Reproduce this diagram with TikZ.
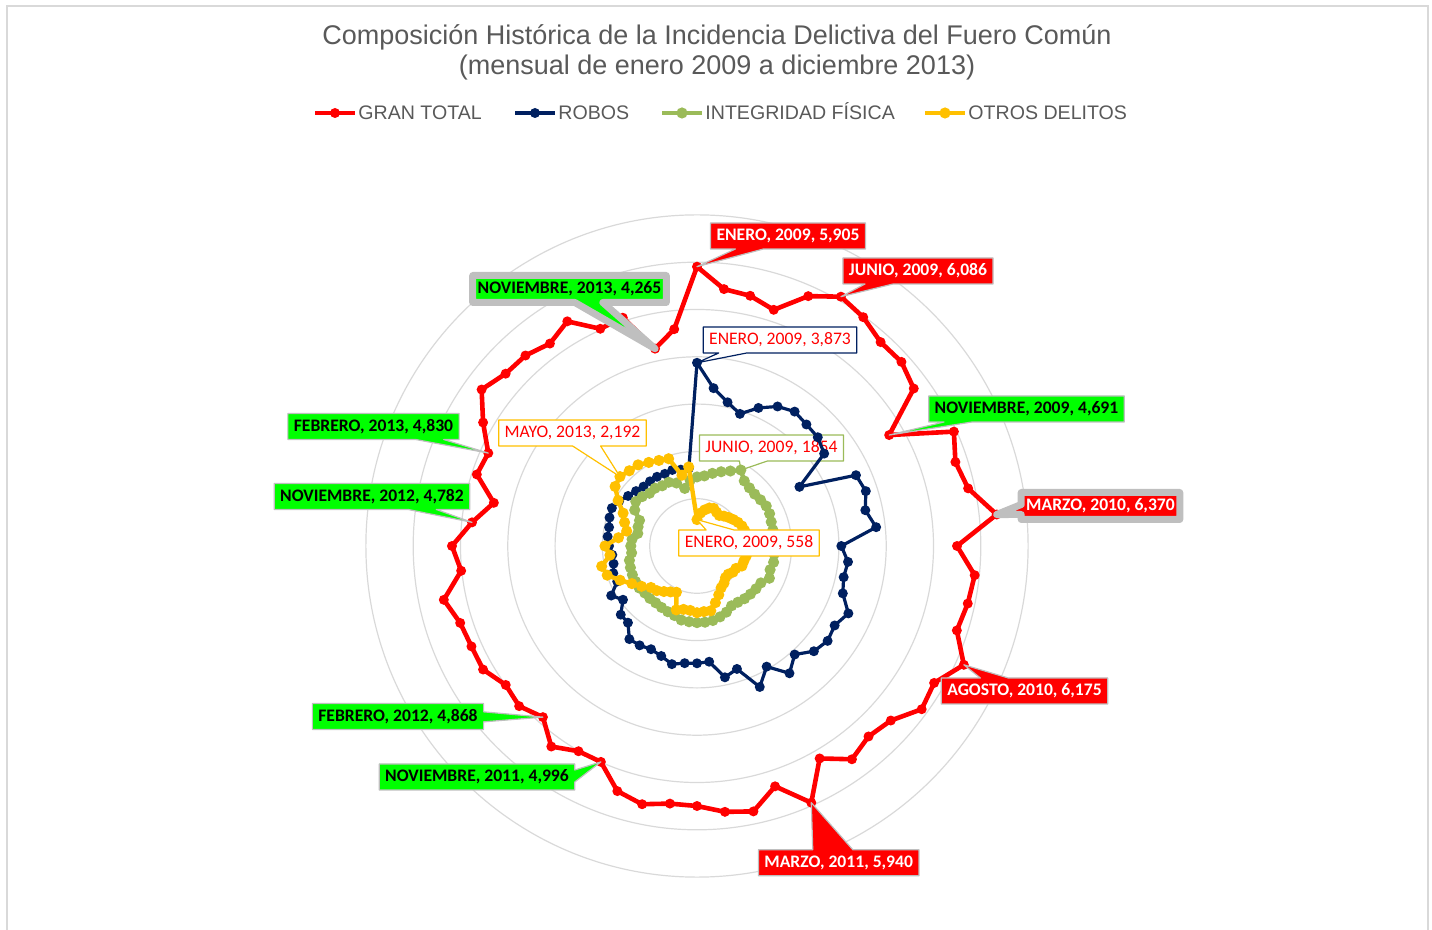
\documentclass[tikz,border=0pt]{standalone}
\usepackage{fontspec}
\setmainfont{Liberation Sans}
\newfontfamily\calibri{Carlito}
\usetikzlibrary{shapes.callouts}

\definecolor{gtRed}{HTML}{FF0000}
\definecolor{robNavy}{HTML}{002060}
\definecolor{intGreen}{HTML}{9BBB59}
\definecolor{otrYellow}{HTML}{FFC000}
\definecolor{lblGreen}{HTML}{00FF00}
\definecolor{gridGray}{HTML}{D9D9D9}
\definecolor{bordGray}{HTML}{BFBFBF}
\definecolor{txtGray}{HTML}{595959}

\tikzset{
  title/.style={text=txtGray, font=\fontsize{13.5}{16}\selectfont, inner sep=0pt},
  legtxt/.style={text=txtGray, font=\fontsize{9.8}{11}\selectfont, inner sep=0pt, anchor=base west},
  serie/.style={line width=#1, line join=round},
  lbl/.style={rectangle callout, inner xsep=3pt, inner ysep=0pt, minimum height=13pt,
    callout pointer width=14pt, line join=round, line width=0.6pt, draw=bordGray,
    font=\calibri\bfseries\fontsize{8.8}{10}\selectfont},
  lblRed/.style={lbl, fill=gtRed, text=white},
  lblGreen/.style={lbl, fill=lblGreen, text=black},
  lblThick/.style={line width=3.5pt, inner xsep=2.5pt, minimum height=13.5pt},
  lblWhite/.style={lbl, fill=white, draw=#1, text=gtRed,
    font=\calibri\fontsize{8.8}{10}\selectfont}
}

\begin{document}
\begin{tikzpicture}[x=0.5pt,y=-0.5pt]
    \pgfmathsetmacro{\sc}{0.0473}   % px por unidad (7000 -> radio 331)
    % datos mensuales enero 2009 - diciembre 2013
    \def\gtData{5905,5461,5408,5250,5782,6086,5979,5801,5816,5664,
      4691,5945,5744,5860,6370,5497,5903,5852,5776,6175,
      5789,5871,5514,5419,5573,5186,5940,5342,5736,5651,
      5497,5476,5581,5448,4996,5010,5240,4868,5059,4998,
      5222,5219,5264,5472,5013,5180,4782,4391,4894,4830,
      5222,5628,5444,5419,5290,5484,5027,5074,4265,4609}
    \def\robData{3873,3355,3106,2937,3195,3406,3512,3457,3436,3323,
      2501,3679,3753,3638,3808,3051,3210,3170,3241,3503,
      3360,3413,3325,3087,3326,2945,3262,2733,2838,2460,
      2480,2491,2554,2445,2389,2425,2433,2182,2169,1934,
      2095,1846,1861,1803,1800,1860,1900,1900,1945,1970,
      1900,1800,1735,1690,1690,1690,1670,1690,1650,1650}
    \def\intData{1460,1490,1570,1650,1735,1854,1700,1655,1640,1660,
      1690,1680,1650,1640,1660,1620,1640,1655,1625,1675,
      1560,1540,1520,1500,1470,1460,1530,1575,1610,1620,
      1620,1610,1600,1545,1520,1500,1485,1490,1485,1510,
      1500,1495,1480,1460,1390,1400,1380,1280,1310,1330,
      1520,1600,1560,1500,1510,1470,1475,1400,1245,1395}
    \def\otrData{558,700,780,845,870,825,800,850,900,950,
      1000,1040,1060,1080,1100,1080,1090,1060,1040,1040,
      950,940,890,900,970,1020,1130,1260,1400,1395,
      1410,1370,1370,1420,1070,1120,1190,1270,1310,1450,
      1590,1780,1995,2060,1850,1945,1670,1520,1610,1710,
      1925,2140,2192,2140,2120,2040,1980,1940,1530,1680}

    \useasboundingbox (0,0) rectangle (1432,930);
    \draw[gridGray, line width=0.7pt] (7,1000) -- (7,6) -- (1428,6) -- (1428,1000);

    % titulo
    \node[title] (tit1) at (717,37) {Composición Histórica de la Incidencia Delictiva del Fuero Común};
    \node[title] (tit2) at (717,68) {(mensual de enero 2009 a diciembre 2013)};

    % leyenda
    \foreach \nm/\col/\lw/\dr/\x/\txt in {gt/gtRed/2.3pt/2.5pt/315/GRAN TOTAL,
        rob/robNavy/1.6pt/2.5pt/515/ROBOS,
        int/intGreen/2.2pt/2.8pt/662/INTEGRIDAD FÍSICA,
        otr/otrYellow/2.2pt/2.8pt/925/OTROS DELITOS}{
      \coordinate (leg-\nm) at (\x,113);
      \draw[\col, line width=\lw] (leg-\nm) -- ++(40,0) coordinate (leg-\nm-e);
      \fill[\col] (leg-\nm) ++(20,0) circle (\dr);
      \node[legtxt] (legt-\nm) at (\x+43,120) {\txt};
    }

    % red polar
    \coordinate (ctr) at (697,546);
    \begin{scope}[shift={(ctr)}, yscale=-1]
        \foreach \k in {1,...,7}
            \draw[gridGray, line width=0.6pt] (0,0) circle ({\k*1000*\sc*0.5pt});
        \foreach \v [count=\i from 0] in \gtData {\coordinate (gt-\i) at ({90-6*\i}:{\v*\sc});}
        \foreach \v [count=\i from 0] in \robData {\coordinate (rob-\i) at ({90-6*\i}:{\v*\sc});}
        \foreach \v [count=\i from 0] in \intData {\coordinate (int-\i) at ({90-6*\i}:{\v*\sc});}
        \foreach \v [count=\i from 0] in \otrData {\coordinate (otr-\i) at ({90-6*\i}:{\v*\sc});}
    \end{scope}

    % GRAN TOTAL
    \draw[gtRed, serie=2.3pt] (gt-0) \foreach \i in {1,...,59}{ -- (gt-\i)} -- cycle;
    \foreach \i in {0,...,59} \fill[gtRed] (gt-\i) circle (2.5pt);

    \node[lblWhite=intGreen] (l-int5) at (771.5,448) [callout absolute pointer={(int-5)}] {JUNIO, 2009, 1854};

    % ROBOS
    \draw[robNavy, serie=1.6pt] (rob-0) \foreach \i in {1,...,59}{ -- (rob-\i)} -- cycle;
    \foreach \i in {0,...,59} \fill[robNavy] (rob-\i) circle (2.5pt);

    % INTEGRIDAD FISICA
    \draw[intGreen, serie=2.2pt] (int-0) \foreach \i in {1,...,59}{ -- (int-\i)} -- cycle;
    \foreach \i in {0,...,59} \fill[intGreen] (int-\i) circle (2.8pt);

    % OTROS DELITOS
    \draw[otrYellow, serie=2.2pt] (otr-0) \foreach \i in {1,...,59}{ -- (otr-\i)} -- cycle;
    \foreach \i in {0,...,59} \fill[otrYellow] (otr-\i) circle (2.8pt);

    % etiquetas de datos
    \node[lblRed, callout absolute pointer={(gt-0)}] (l-gt0) at (788,236) {ENERO, 2009, 5,905};
    \node[lblRed, callout absolute pointer={(gt-5)}] (l-gt5) at (918,271) {JUNIO, 2009, 6,086};
    \node[lblGreen, lblThick, callout absolute pointer={(gt-58)}] (l-gt58) at (569.5,289) {NOVIEMBRE, 2013, 4,265};
    \node[lblWhite=robNavy, callout absolute pointer={(rob-0)}] (l-rob0) at (780,340) {ENERO, 2009, 3,873};
    \node[lblGreen, callout absolute pointer={(gt-10)}] (l-gt10) at (1026.5,409) {NOVIEMBRE, 2009, 4,691};
    \node[lblGreen, callout absolute pointer={(gt-49)}] (l-gt49) at (373.5,426.5) {FEBRERO, 2013, 4,830};
    \node[lblWhite=otrYellow, callout absolute pointer={(otr-52)}] (l-otr52) at (572.5,433) {MAYO, 2013, 2,192};
    \node[lblGreen, callout absolute pointer={(gt-46)}] (l-gt46) at (372,496.5) {NOVIEMBRE, 2012, 4,782};
    \node[lblRed, lblThick, callout pointer width=5pt, callout absolute pointer={(gt-14)}] (l-gt14) at (1100.5,506) {MARZO, 2010, 6,370};
    \node[lblWhite=otrYellow, callout absolute pointer={(otr-0)}] (l-otr0) at (749,543) {ENERO, 2009, 558};
    \node[lblRed, callout absolute pointer={(gt-19)}] (l-gt19) at (1024.5,691) {AGOSTO, 2010, 6,175};
    \node[lblGreen, callout pointer width=5pt, callout absolute pointer={(gt-37)}] (l-gt37) at (398,716.5) {FEBRERO, 2012, 4,868};
    \node[lblGreen, callout pointer width=6pt, callout absolute pointer={(gt-34)}] (l-gt34) at (477,777) {NOVIEMBRE, 2011, 4,996};
    \node[lblRed, callout pointer width=20pt, callout absolute pointer={(gt-26)}] (l-gt26) at (838.7,862.7) {MARZO, 2011, 5,940};
\end{tikzpicture}
\end{document}
